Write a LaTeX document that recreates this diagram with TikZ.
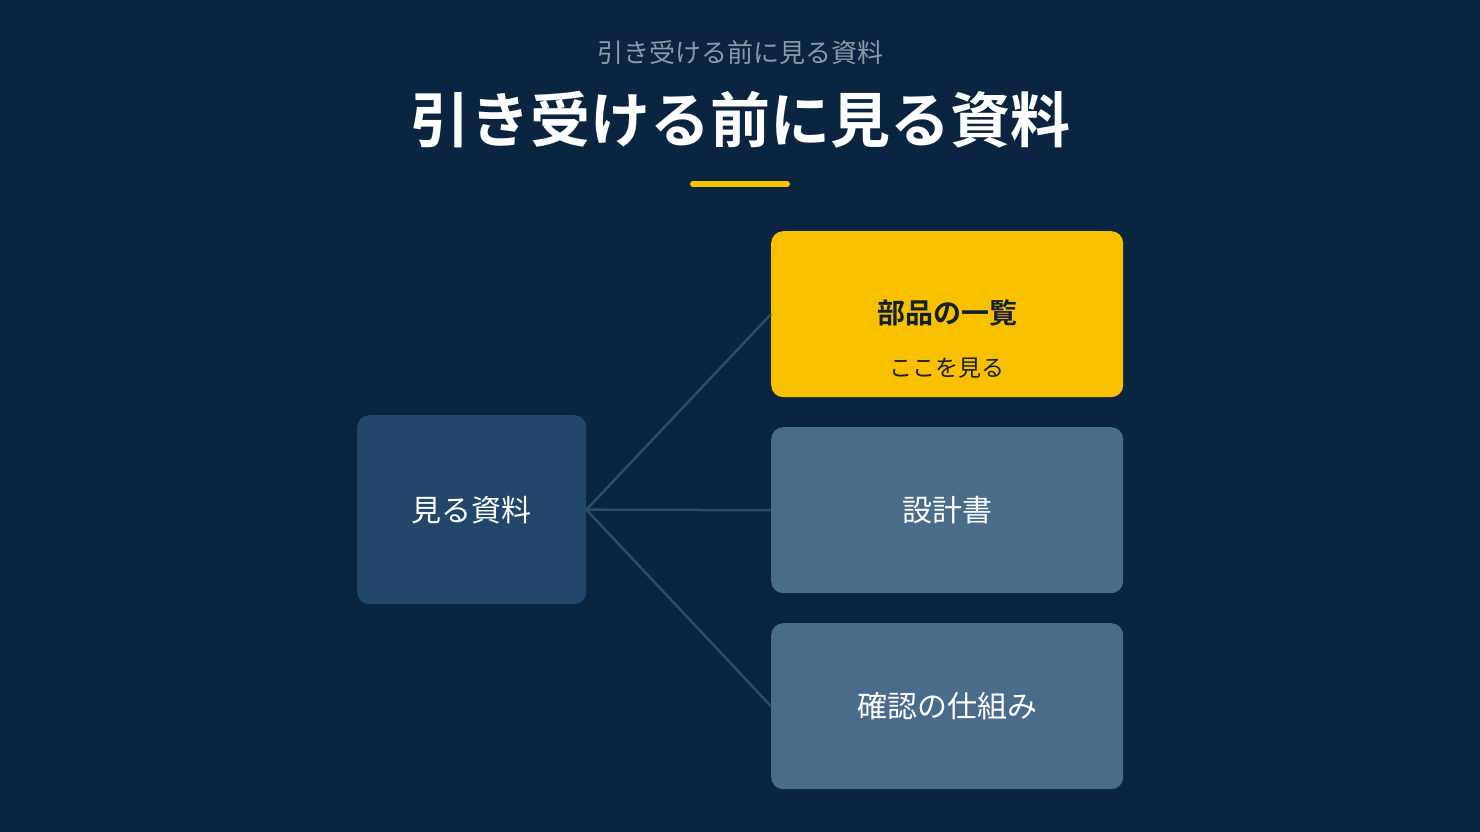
\documentclass[tikz,border=0pt]{standalone}
\usepackage{fontspec}
\newfontfamily\cjk{Noto Sans CJK JP}
\newfontfamily\cjkb{Noto Sans CJK JP Bold}
\definecolor{bg}{HTML}{0B2440}
\definecolor{leftc}{HTML}{23476A}
\definecolor{rightc}{HTML}{4A6B8A}
\definecolor{yel}{HTML}{F9C000}
\definecolor{linec}{HTML}{2B4C6E}
\definecolor{subc}{HTML}{8C99A8}
\definecolor{dark}{HTML}{14202E}
\begin{document}
\begin{tikzpicture}[x=1pt,y=1pt,
  box/.style={rounded corners=12pt,inner sep=0pt,anchor=north west},
  conn/.style={draw=linec,line width=2.5pt}]
\useasboundingbox (0,0) rectangle (1480,832);
\fill[bg] (0,0) rectangle (1480,832);
\node[text=subc,font=\cjk\fontsize{26}{30}\selectfont] (sub) at (740,779) {引き受ける前に見る資料};
\node[text=white,font=\cjkb\fontsize{60}{68}\selectfont] (title) at (740,712) {引き受ける前に見る資料};
\draw[yel,line width=6pt,line cap=round] (693,648) -- (787,648);
\node[box,fill=leftc,minimum width=229pt,minimum height=189pt] (L) at (357,417) {};
\node[box,fill=yel,minimum width=352pt,minimum height=166pt] (A) at (771,601) {};
\node[box,fill=rightc,minimum width=352pt,minimum height=166pt] (B) at (771,405) {};
\node[box,fill=rightc,minimum width=352pt,minimum height=166pt] (C) at (771,209) {};
\draw[conn] (L.east) -- (A.west);
\draw[conn] (L.east) -- (B.west);
\draw[conn] (L.east) -- (C.west);
\node[text=white,font=\cjk\fontsize{30}{34}\selectfont] at (L.center) {見る資料};
\node[text=dark,font=\cjkb\fontsize{28}{32}\selectfont] (a1) at (947,519) {部品の一覧};
\node[text=dark,font=\cjk\fontsize{23}{27}\selectfont] (a2) at (947,464) {ここを見る};
\node[text=white,font=\cjk\fontsize{30}{34}\selectfont] at (B.center) {設計書};
\node[text=white,font=\cjk\fontsize{30}{34}\selectfont] at (C.center) {確認の仕組み};
\end{tikzpicture}
\end{document}
